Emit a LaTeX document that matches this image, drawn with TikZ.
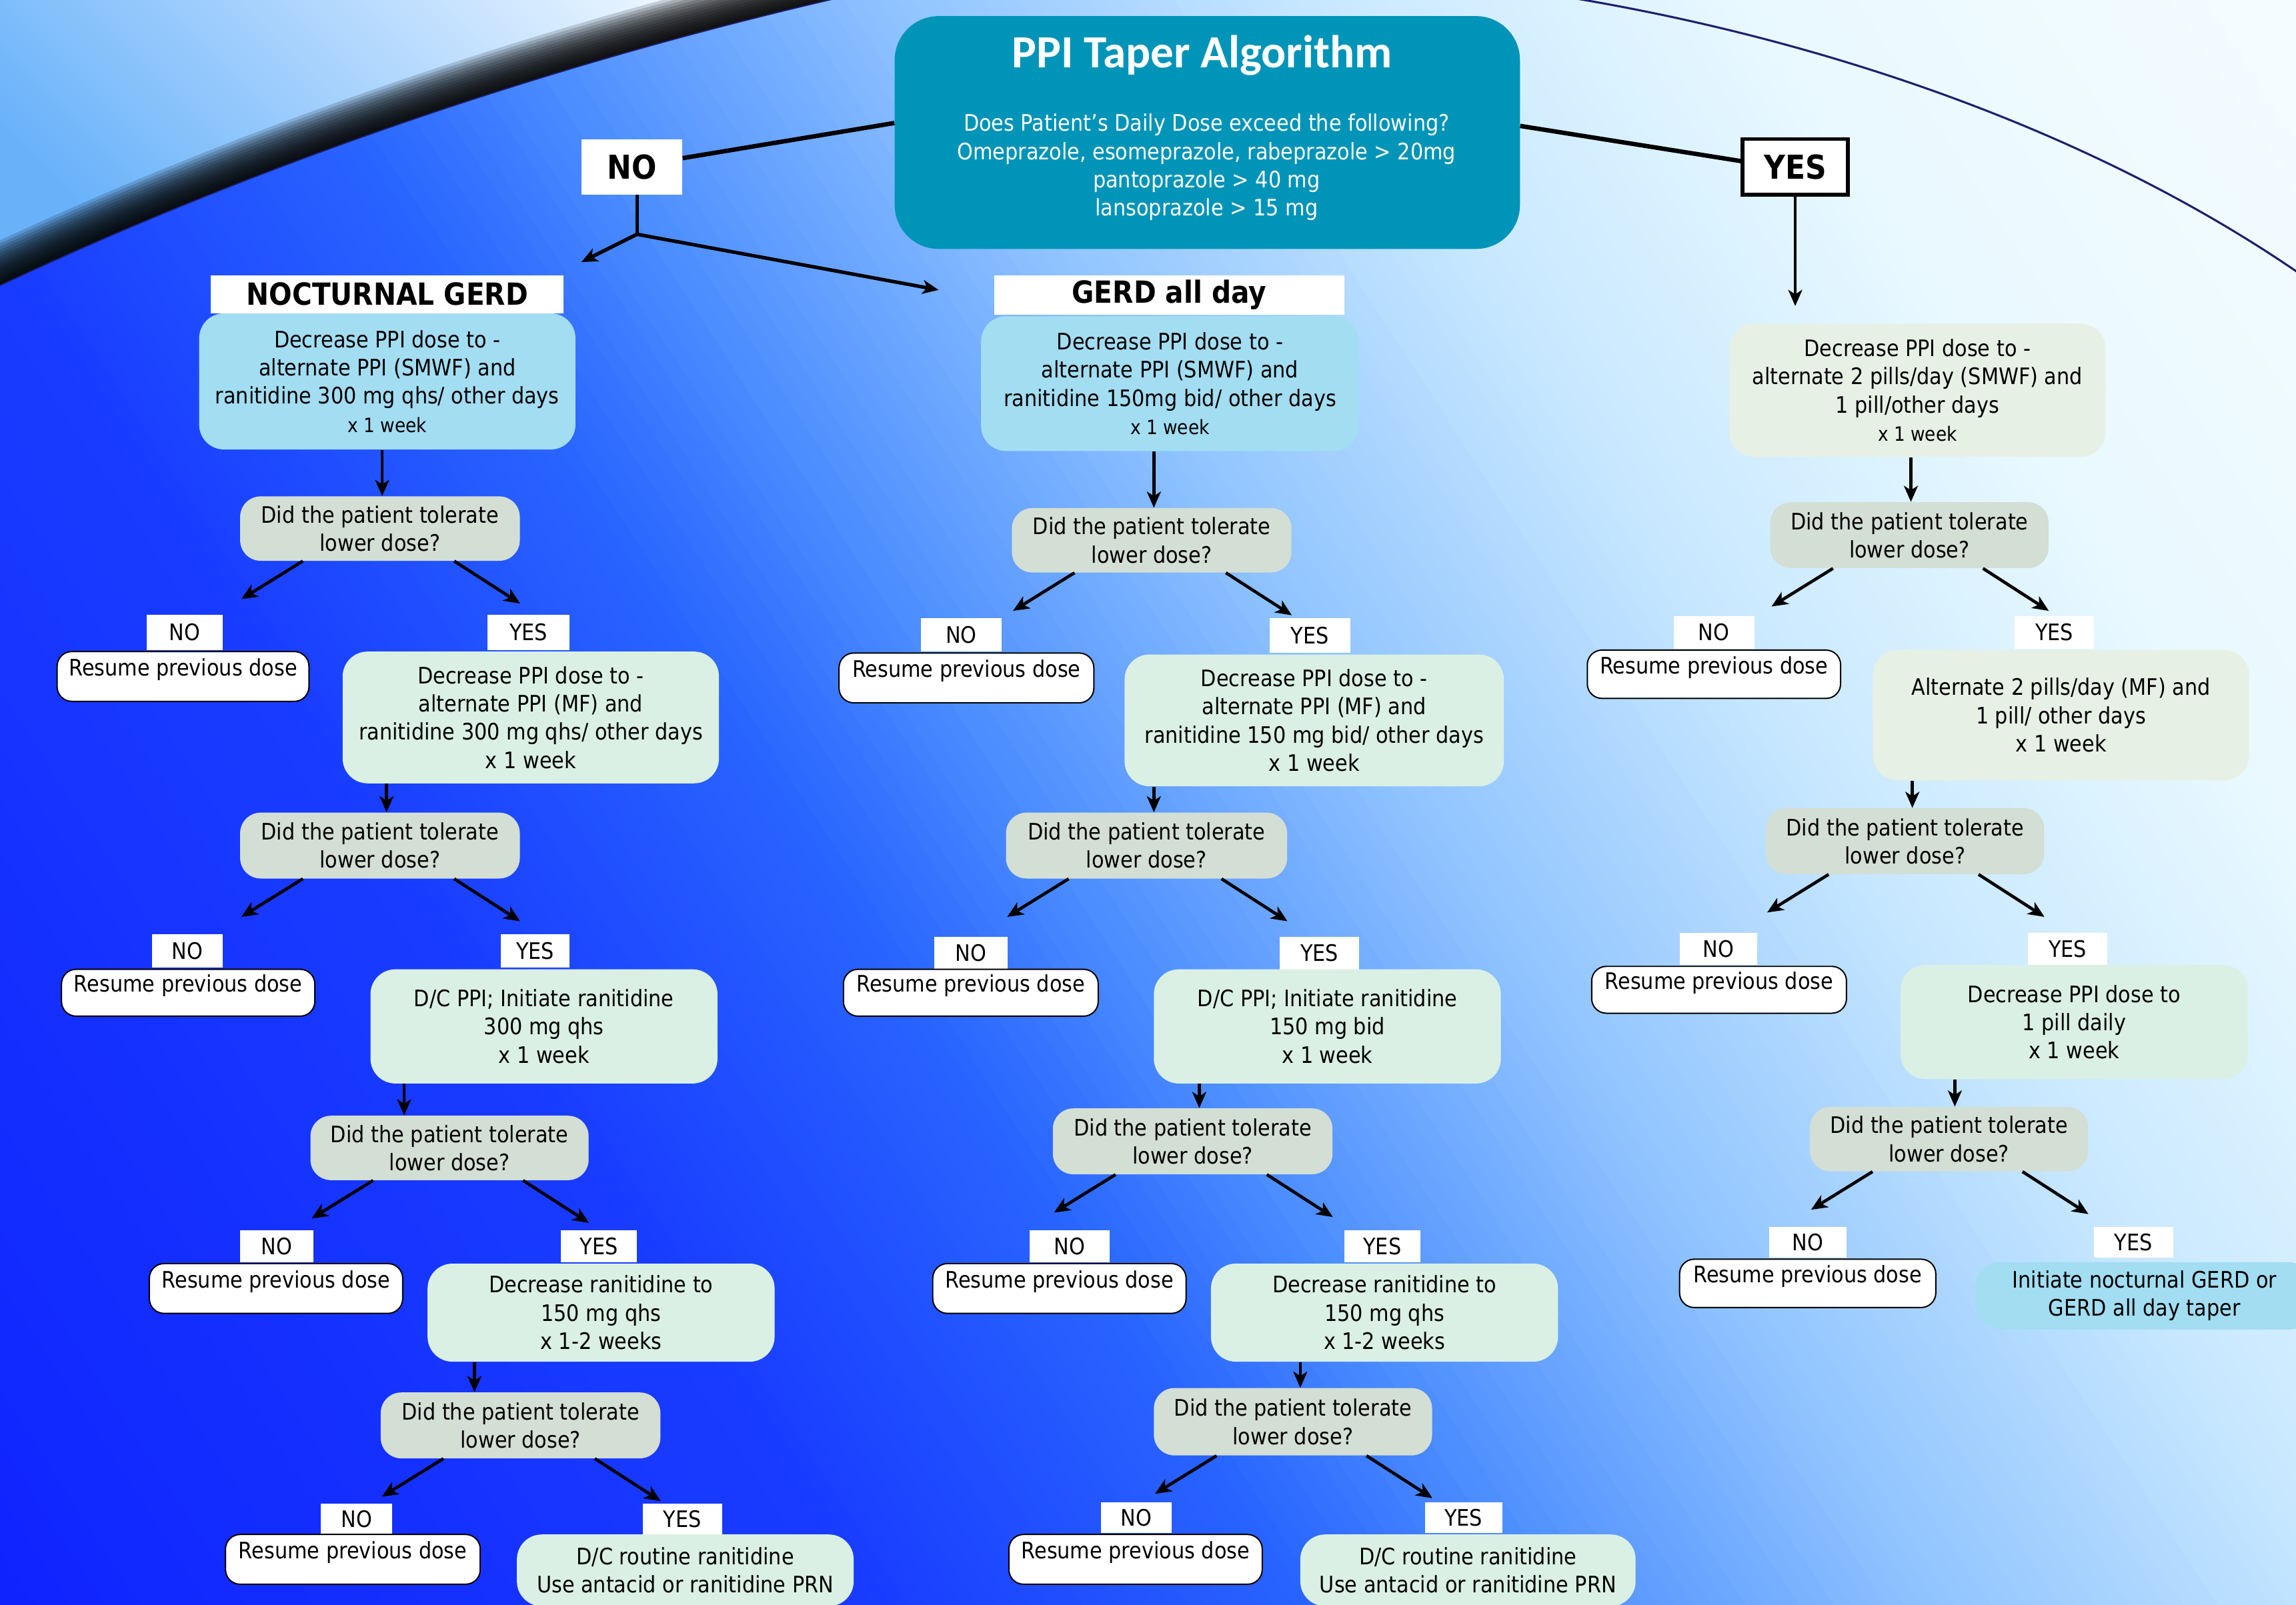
\documentclass[tikz,border=0pt]{standalone}
\usepackage{fontspec}
\setmainfont{DejaVu Sans}[FakeStretch=0.89]
\newfontfamily\titlefont{Carlito}
\usetikzlibrary{arrows.meta,calc}

\definecolor{titleteal}{RGB}{0,148,184}
\definecolor{lblue}{RGB}{162,221,242}
\definecolor{qgray}{RGB}{211,222,212}
\definecolor{mint}{RGB}{218,240,228}
\definecolor{pale}{RGB}{231,240,229}
\definecolor{arcnavy}{RGB}{30,30,110}
\definecolor{bg0}{RGB}{15,35,255}
\definecolor{bg1}{RGB}{25,60,255}
\definecolor{bg2}{RGB}{40,100,255}
\definecolor{bg3}{RGB}{80,145,255}
\definecolor{bg4}{RGB}{142,194,255}
\definecolor{bg5}{RGB}{200,232,255}
\definecolor{bg6}{RGB}{233,249,255}
\definecolor{bg7}{RGB}{248,253,255}
\definecolor{skytop}{RGB}{238,247,255}
\definecolor{skybot}{RGB}{105,178,250}

\newcommand\bodyf{\fontsize{15.5}{19.3}\selectfont}
\newcommand\smallf{\fontsize{13.5}{19.3}\selectfont}

\tikzset{
  bx/.style={align=center, inner sep=0pt, font=\bodyf, text=black},
  bigbox/.style={bx, rounded corners=17pt},
  qbox/.style={bx, fill=qgray, rounded corners=14pt},
  resume/.style={bx, fill=white, draw=black, line width=0.9pt, rounded corners=10pt, text depth=12.6pt},
  lbl/.style={bx, fill=white},
  hdr/.style={bx, fill=white, font=\bfseries\fontsize{20.8}{24}\selectfont},
  bigtag/.style={bx, fill=white, font=\bfseries\fontsize{22.5}{26}\selectfont},
  arr/.style={-{Stealth[length=11pt,width=9.5pt,inset=3pt]}, line width=2.1pt},
}

\newcommand\boxnode[7]{%
  \pgfmathsetmacro\bxc{(#3+#5)/2}%
  \pgfmathsetmacro\byc{(#4+#6)/2}%
  \pgfmathsetmacro\bw{#5-#3}%
  \pgfmathsetmacro\bh{#6-#4}%
  \node[#2, minimum width=\bw pt, minimum height=\bh pt] (#1) at (\bxc,\byc) {#7};}

\newcommand\varrow[3]{%
  \coordinate (#2-in) at ($(#2.north)+(#3,0)$);
  \draw[arr] (#2-in |- #1.south) -- (#2-in);}

\newcommand\darrows[1]{%
  \coordinate (#1-ns) at ([xshift=43pt]#1.south west);
  \coordinate (#1-ne) at ([shift={(1pt,-26pt)}]#1.south west);
  \coordinate (#1-ys) at ([xshift=-45pt]#1.south east);
  \coordinate (#1-ye) at ([yshift=-29pt]#1.south east);
  \draw[arr] (#1-ns) -- (#1-ne);
  \draw[arr] (#1-ys) -- (#1-ye);}

\newcommand\qtext{Did the patient tolerate\\lower dose?}
\newcommand\restext{Resume previous dose}

\begin{document}
\begin{tikzpicture}[x=1pt,y=-1pt]
\useasboundingbox (0,0) rectangle (1568,1096);
\clip (0,0) rectangle (1568,1096);

% ---------- background gradient ----------
\begin{scope}[shift={(0,1096)}, rotate=33]
  \foreach \ta/\tb/\ca/\cb/\n in {0/500/bg0/bg1/25, 500/750/bg1/bg2/25, 750/900/bg2/bg3/15, 900/1100/bg3/bg4/20, 1100/1350/bg4/bg5/25, 1350/1600/bg5/bg6/25, 1600/2000/bg6/bg7/20}{
    \foreach \j in {1,...,\n}{
      \pgfmathsetmacro\tlo{\ta+(\tb-\ta)*(\j-1)/\n}
      \pgfmathsetmacro\thi{\ta+(\tb-\ta)*\j/\n+1}
      \pgfmathtruncatemacro\pp{100*(\j-0.5)/\n}
      \fill[\cb!\pp!\ca] (\tlo,-2500) rectangle (\thi,2500);
    }
  }
\end{scope}

% ---------- top-left sky outside the globe ----------
\begin{scope}
  \clip (-2,-2) -- (-2,196) -- (0,195) .. controls (170,115) and (370,45) .. (575,-2) -- cycle;
  \shade[top color=skytop, bottom color=skybot, shading angle=-45] (-2,-2) rectangle (580,200);
  \foreach \k in {1,...,14}{
    \begin{scope}[shift={(-0.72*\k,-1.87*\k)}]
      \fill[black, opacity=0.16] (-100,242) -- (0,195) .. controls (170,115) and (370,45) .. (575,-2) -- (720,-2) -- (720,420) -- (-100,420) -- cycle;
    \end{scope}
  }
\end{scope}
\draw[arcnavy, line width=0.8pt] (0,195) .. controls (170,115) and (370,45) .. (575,-2);
\draw[arcnavy, line width=1.4pt] (1030,-8) .. controls (1200,15) and (1410,75) .. (1575,190);

% ---------- title ----------
\boxnode{title}{bx, fill=titleteal, rounded corners=30pt}{611}{11}{1038}{170}{}
\node[anchor=base, inner sep=0pt, text=white, font=\titlefont\bfseries\fontsize{31.5}{36}\selectfont] (ttl) at (821,46) {PPI Taper Algorithm};
\node[align=center, inner sep=0pt, text=white, font=\bodyf] (tbody) at (824,114.3) {Does Patient’s Daily Dose exceed the following?\\Omeprazole, esomeprazole, rabeprazole > 20mg\\pantoprazole > 40 mg\\lansoprazole > 15 mg};

\boxnode{topno}{bigtag}{397}{95}{466}{133}{NO}
\boxnode{topyes}{bigtag, draw=black, line width=2.5pt}{1190}{95}{1262}{133}{YES}

% ---------- left column ----------
\boxnode{l1}{bigbox, fill=lblue}{136}{214}{393}{307}{Decrease PPI dose to -\\alternate PPI (SMWF) and\\ranitidine 300 mg qhs/ other days\\{\smallf x 1 week}}
\boxnode{lh}{hdr}{144}{188}{385}{214}{NOCTURNAL GERD}
\boxnode{lq1}{qbox}{164}{339}{355}{383}{\qtext}
\boxnode{ln1}{lbl}{100}{420}{152}{444}{NO}
\boxnode{ly1}{lbl}{333}{420}{389}{444}{YES}
\boxnode{lr1}{resume}{39}{445}{211}{479}{\restext}
\boxnode{l2}{bigbox, fill=mint}{234}{445}{491}{535}{Decrease PPI dose to -\\alternate PPI (MF) and\\ranitidine 300 mg qhs/ other days\\x 1 week}
\boxnode{lq2}{qbox}{164}{555}{355}{600}{\qtext}
\boxnode{ln2}{lbl}{104}{638}{152}{661}{NO}
\boxnode{ly2}{lbl}{342}{638}{389}{661}{YES}
\boxnode{lr2}{resume}{42}{662}{215}{694}{\restext}
\boxnode{l3}{bigbox, fill=mint}{253}{662}{490}{740}{D/C PPI; Initiate ranitidine\\300 mg qhs\\x 1 week}
\boxnode{lq3}{qbox}{212}{762}{402}{806}{\qtext}
\boxnode{ln3}{lbl}{164}{840}{214}{862}{NO}
\boxnode{ly3}{lbl}{383}{840}{435}{862}{YES}
\boxnode{lr3}{resume}{102}{863}{275}{897}{\restext}
\boxnode{l4}{bigbox, fill=mint}{292}{863}{529}{930}{Decrease ranitidine to\\150 mg qhs\\x 1-2 weeks}
\boxnode{lq4}{qbox}{260}{951}{451}{996}{\qtext}
\boxnode{ln4}{lbl}{219}{1027}{268}{1048}{NO}
\boxnode{ly4}{lbl}{439}{1027}{493}{1048}{YES}
\boxnode{lr4}{resume}{154}{1048}{328}{1082}{\restext}
\boxnode{l5}{bigbox, fill=mint}{353}{1048}{583}{1097}{D/C routine ranitidine\\Use antacid or ranitidine PRN}

% ---------- middle column ----------
\boxnode{m1}{bigbox, fill=lblue}{670}{216}{928}{308}{Decrease PPI dose to -\\alternate PPI (SMWF) and\\ranitidine 150mg bid/ other days\\{\smallf x 1 week}}
\boxnode{mh}{hdr}{679}{188}{918}{215}{GERD all day}
\boxnode{mq1}{qbox}{691}{347}{882}{391}{\qtext}
\boxnode{mn1}{lbl}{629}{422}{684}{445}{NO}
\boxnode{my1}{lbl}{867}{422}{922}{446}{YES}
\boxnode{mr1}{resume}{573}{446}{747}{480}{\restext}
\boxnode{m2}{bigbox, fill=mint}{768}{447}{1027}{537}{Decrease PPI dose to -\\alternate PPI (MF) and\\ranitidine 150 mg bid/ other days\\x 1 week}
\boxnode{mq2}{qbox}{687}{555}{879}{600}{\qtext}
\boxnode{mn2}{lbl}{638}{640}{688}{662}{NO}
\boxnode{my2}{lbl}{874}{640}{928}{662}{YES}
\boxnode{mr2}{resume}{576}{662}{750}{694}{\restext}
\boxnode{m3}{bigbox, fill=mint}{788}{662}{1025}{740}{D/C PPI; Initiate ranitidine\\150 mg bid\\x 1 week}
\boxnode{mq3}{qbox}{719}{757}{910}{802}{\qtext}
\boxnode{mn3}{lbl}{703}{840}{758}{862}{NO}
\boxnode{my3}{lbl}{918}{840}{970}{862}{YES}
\boxnode{mr3}{resume}{637}{863}{810}{897}{\restext}
\boxnode{m4}{bigbox, fill=mint}{827}{863}{1064}{930}{Decrease ranitidine to\\150 mg qhs\\x 1-2 weeks}
\boxnode{mq4}{qbox}{788}{948}{978}{994}{\qtext}
\boxnode{mn4}{lbl}{752}{1026}{800}{1047}{NO}
\boxnode{my4}{lbl}{973}{1026}{1026}{1047}{YES}
\boxnode{mr4}{resume}{689}{1048}{862}{1082}{\restext}
\boxnode{m5}{bigbox, fill=mint}{888}{1048}{1117}{1097}{D/C routine ranitidine\\Use antacid or ranitidine PRN}

% ---------- right column ----------
\boxnode{r1}{bigbox, fill=pale}{1181}{221}{1438}{312}{Decrease PPI dose to -\\alternate 2 pills/day (SMWF) and\\1 pill/other days\\{\smallf x 1 week}}
\boxnode{rq1}{qbox}{1209}{343}{1399}{388}{\qtext}
\boxnode{rn1}{lbl}{1143}{421}{1198}{443}{NO}
\boxnode{ry1}{lbl}{1376}{421}{1430}{443}{YES}
\boxnode{rr1}{resume}{1084}{444}{1257}{477}{\restext}
\boxnode{r2}{bigbox, fill=pale}{1279}{444}{1536}{533}{Alternate 2 pills/day (MF) and\\1 pill/ other days\\x 1 week}
\boxnode{rq2}{qbox}{1206}{552}{1396}{597}{\qtext}
\boxnode{rn2}{lbl}{1147}{637}{1200}{659}{NO}
\boxnode{ry2}{lbl}{1385}{637}{1439}{659}{YES}
\boxnode{rr2}{resume}{1087}{660}{1261}{692}{\restext}
\boxnode{r3}{bigbox, fill=mint}{1298}{659}{1535}{737}{Decrease PPI dose to\\1 pill daily\\x 1 week}
\boxnode{rq3}{qbox}{1236}{756}{1426}{800}{\qtext}
\boxnode{rn3}{lbl}{1208}{838}{1261}{859}{NO}
\boxnode{ry3}{lbl}{1430}{838}{1484}{859}{YES}
\boxnode{rr3}{resume}{1147}{860}{1322}{893}{\restext}
\boxnode{r4}{bigbox, fill=lblue}{1349}{862}{1580}{908}{Initiate nocturnal GERD or\\GERD all day taper}

% ---------- top connectors ----------
\draw[line width=3pt] ([yshift=6.5pt]title.west) -- ([yshift=6pt]topno.east);
\draw[line width=3pt] ([yshift=4.5pt]title.east) -- ([yshift=4pt]topyes.west);
\coordinate (nj) at (435,160);
\coordinate (njl) at (397,179);
\coordinate (njr) at (641,198);
\draw[line width=2.2pt] (topno.south -| nj) -- (nj);
\draw[arr, line width=2.4pt] (nj) -- (njl);
\draw[arr, line width=2.4pt] (nj) -- (njr);
\coordinate (yj) at (1226,209);
\draw[arr] (topyes.south -| yj) -- (yj);

% ---------- vertical arrows ----------
\varrow{l1}{lq1}{1.5}
\varrow{l2}{lq2}{4.5}
\varrow{l3}{lq3}{-31}
\varrow{l4}{lq4}{-31.5}
\varrow{m1}{mq1}{1.5}
\varrow{m2}{mq2}{5}
\varrow{m3}{mq3}{4.5}
\varrow{m4}{mq4}{5}
\varrow{r1}{rq1}{1}
\varrow{r2}{rq2}{5}
\varrow{r3}{rq3}{4}

% ---------- decision arrows ----------
\darrows{lq1}\darrows{lq2}\darrows{lq3}\darrows{lq4}
\darrows{mq1}\darrows{mq2}\darrows{mq3}\darrows{mq4}
\darrows{rq1}\darrows{rq2}\darrows{rq3}
\end{tikzpicture}
\end{document}
